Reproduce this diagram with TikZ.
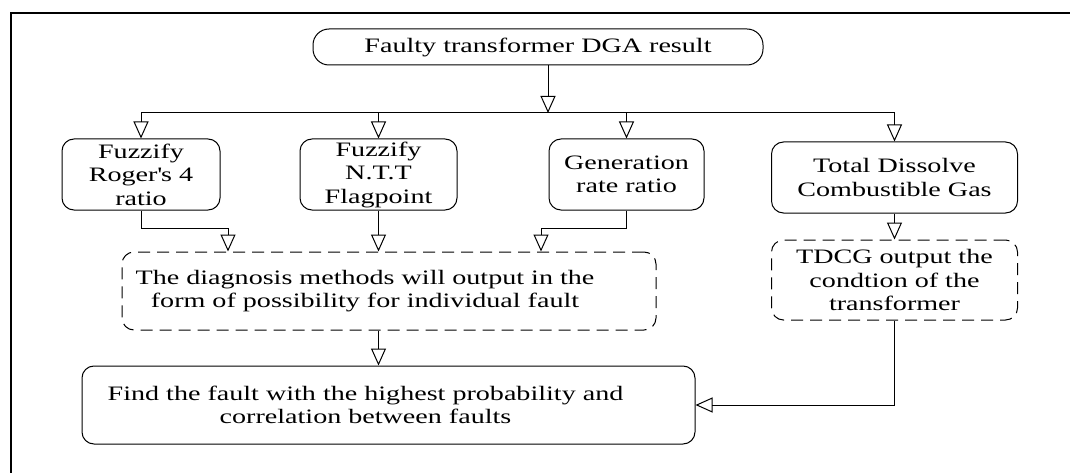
\documentclass[tikz,border=0pt]{standalone}
\usepackage{fontspec}
\setmainfont{Liberation Serif}[FakeStretch=1.37]
\usetikzlibrary{arrows.meta}

\tikzset{
    blok/.style = { draw, rounded corners = 12pt, inner sep = 0pt, align = center,
                    font = \fontsize{20.5}{23.5}\selectfont },
    blokdash/.style = { blok, dash pattern = on 12pt off 7pt },
    blottext/.style = { align=center, font=\fontsize{20.5}{23.5}\selectfont },
    strelka/.style = { -{Triangle[open, length = 17pt, width = 15pt]} }
}

\begin{document}
\begin{tikzpicture}[x=1pt, y=-1pt, line width=1pt]
        \useasboundingbox ( 0, 0 ) rectangle ( 1070, 473 );

        % рамка
        \draw [line width = 1.4pt] ( 11, 473 ) -- ( 11, 13 ) -- ( 1070, 13 );

        % начало
        \node [ blok, rounded corners = 16pt, minimum width = 450pt, minimum height = 36pt ] (dga) at ( 538, 47 ) {Faulty transformer DGA result};

        % методы
        \node [ blok, minimum width = 158pt, minimum height = 71pt ] (roger) at ( 141, 174.5 ) {Fuzzify\\Roger\textquotesingle s 4\\ratio};
        \node [ blok, minimum width = 157pt, minimum height = 71pt ] (ntt) at ( 378.5, 174.5 ) {Fuzzify\\N.T.T\\Flagpoint};
        \node [ blok, minimum width = 155pt, minimum height = 71pt ] (gen) at ( 626.5, 174.5 ) {Generation\\rate ratio};
        \node [ blok, minimum width = 246pt, minimum height = 71pt ] (tdcg) at ( 894.5, 177.5 ) {Total Dissolve\\Combustible Gas};

        % выходы
        \node [ blokdash, minimum width = 534pt, minimum height = 78pt,
                label = {[blottext,xshift=-24pt]center:The diagnosis methods will output in the\\form of possibility for individual fault} ] (diag) at ( 389, 291 ) {};
        \node [ blokdash, minimum width = 246pt, minimum height = 80pt ] (tdcgout) at ( 894.5, 280 ) {TDCG output the\\condtion of the\\transformer};

        % итог
        \node [ blok, minimum width = 613pt, minimum height = 78pt,
                label = {[blottext,xshift=-23pt]center:Find the fault with the highest probability and\\correlation between faults} ] (find) at ( 388.5, 405 ) {};

        % шина
        \coordinate (bus) at ( 548, 113 );
        \draw [strelka] (dga.south -| bus) -- (bus);
        \draw (roger.north |- bus) -- (tdcg.north |- bus);
        \foreach \n in {roger, ntt, gen, tdcg}
            \draw [strelka] (\n.north |- bus) -- (\n.north);

        % к выходам
        \coordinate (j1) at ( 228, 228 );
        \coordinate (j3) at ( 541, 228 );
        \draw [strelka] (roger.south) |- (j1) -- (j1 |- diag.north);
        \draw [strelka] (ntt.south) -- (ntt.south |- diag.north);
        \draw [strelka] (gen.south) |- (j3) -- (j3 |- diag.north);
        \draw [strelka] (tdcg.south) -- (tdcgout.north);

        % к итогу
        \draw [strelka] (ntt |- diag.south) -- (ntt |- find.north);
        \draw [strelka] (tdcgout.south) |- (find.east);
    \end{tikzpicture}
\end{document}
